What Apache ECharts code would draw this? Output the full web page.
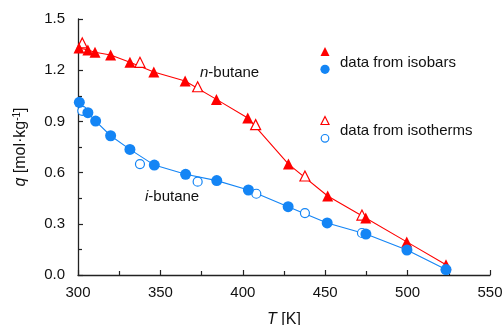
<!DOCTYPE html>
<html>
<head>
<meta charset="utf-8">
<script src="https://cdn.jsdelivr.net/npm/echarts@6/dist/echarts.min.js"></script>
<style>
  html, body {margin: 0; padding: 0; background: #fff;}
  #chart {width: 502px; height: 325px;}
</style>
</head>
<body>
<div id="chart"></div>
<script>
// n-butane, data from isobars (filled triangles)
const nIsobarT = [300.6, 306, 310.3, 319.8, 331.5, 346, 365, 384, 403, 427.7, 451.5, 474.6, 499.5, 523.3];
const nIsobarQ = [1.33, 1.318, 1.305, 1.289, 1.246, 1.19, 1.137, 1.029, 0.92, 0.65, 0.463, 0.334, 0.194, 0.06];
// n-butane, data from isotherms (open triangles)
const nIsothermT = [302.6, 337.6, 372.6, 407.8, 437.7, 472.3];
const nIsothermQ = [1.36, 1.246, 1.103, 0.881, 0.58, 0.351];
// i-butane, data from isobars (filled circles)
const iIsobarT = [300.8, 306, 310.7, 319.8, 331.5, 346.3, 365.3, 384.2, 403.4, 427.5, 451.2, 474.7, 499.6, 523.3];
const iIsobarQ = [1.012, 0.951, 0.902, 0.816, 0.736, 0.644, 0.59, 0.553, 0.498, 0.40, 0.305, 0.24, 0.146, 0.032];
// i-butane, data from isotherms (open circles)
const iIsothermT = [302.6, 337.6, 372.6, 408.2, 437.7, 472.3, 523.3];
const iIsothermQ = [0.962, 0.65, 0.547, 0.476, 0.363, 0.246, 0.03];

const RED = '#ff0000';
const BLUE = '#1485f5';
const FONT = 'Liberation Sans';
const INK = '#111';

const pairs = (xs, ys) => xs.map((x, i) => [x, ys[i]]);

const chart = echarts.init(document.getElementById('chart'));
chart.setOption({
  animation: false,
  textStyle: {fontFamily: FONT},
  grid: {left: 78, right: 12, top: 19, bottom: 50, containLabel: false, outerBoundsMode: 'none'},
  xAxis: {
    type: 'value',
    min: 300, max: 550, interval: 50,
    name: '{i|T} [K]',
    nameLocation: 'middle',
    nameGap: 37,
    nameTextStyle: {
      fontSize: 16, color: INK, fontFamily: FONT,
      rich: {i: {fontStyle: 'italic', fontSize: 16, fontFamily: FONT, color: INK}}
    },
    axisLine: {lineStyle: {color: '#222', width: 1.3}},
    axisTick: {inside: true, length: 5, lineStyle: {color: '#222', width: 1.2}},
    minorTick: {show: true, splitNumber: 2, length: 4, lineStyle: {color: '#222', width: 1.2}},
    axisLabel: {fontSize: 15, color: INK, margin: 10, fontFamily: FONT},
    splitLine: {show: false}
  },
  yAxis: {
    type: 'value',
    min: 0, max: 1.5, interval: 0.3,
    name: '{i|q} [mol·kg{s|-1}]',
    nameLocation: 'middle',
    nameGap: 48,
    nameRotate: 90,
    nameTextStyle: {
      fontSize: 16, color: INK, fontFamily: FONT,
      rich: {
        i: {fontStyle: 'italic', fontSize: 16, fontFamily: FONT, color: INK},
        s: {fontSize: 10, verticalAlign: 'top', padding: [0, 0, 8, 0], fontFamily: FONT, color: INK}
      }
    },
    axisLine: {show: true, lineStyle: {color: '#222', width: 1.3}},
    axisTick: {inside: true, length: 5, lineStyle: {color: '#222', width: 1.2}},
    minorTick: {show: true, splitNumber: 2, length: 4, lineStyle: {color: '#222', width: 1.2}},
    axisLabel: {fontSize: 15, color: INK, margin: 13, fontFamily: FONT,
      formatter: v => v.toFixed(1)},
    splitLine: {show: false}
  },
  series: [
    {type: 'line', data: pairs(nIsobarT, nIsobarQ), showSymbol: false,
      lineStyle: {color: RED, width: 1.1}, z: 1},
    {type: 'line', data: pairs(iIsobarT, iIsobarQ), showSymbol: false,
      lineStyle: {color: BLUE, width: 1.1}, z: 1},
    {type: 'scatter', data: pairs(nIsothermT, nIsothermQ), symbol: 'triangle', symbolSize: 10,
      itemStyle: {color: '#fff', borderColor: RED, borderWidth: 1.2, opacity: 1}, z: 2},
    {type: 'scatter', data: pairs(iIsothermT, iIsothermQ), symbol: 'circle', symbolSize: 9,
      itemStyle: {color: '#fff', borderColor: BLUE, borderWidth: 1.2, opacity: 1}, z: 2},
    {type: 'scatter', data: pairs(nIsobarT, nIsobarQ), symbol: 'triangle', symbolSize: 11,
      itemStyle: {color: RED, opacity: 1}, z: 3},
    {type: 'scatter', data: pairs(iIsobarT, iIsobarQ), symbol: 'circle', symbolSize: 11,
      itemStyle: {color: BLUE, opacity: 1}, z: 3}
  ],
  graphic: [
    // legend
    {type: 'polygon', shape: {points: [[325, 47], [320.5, 56], [329.5, 56]]}, style: {fill: RED}},
    {type: 'circle', shape: {cx: 325, cy: 69.3, r: 4.6}, style: {fill: BLUE}},
    {type: 'text', style: {x: 340, y: 62.5, text: 'data from isobars', font: '15px ' + FONT,
      fill: INK, verticalAlign: 'middle'}},
    {type: 'polygon', shape: {points: [[325, 116.5], [321, 124.5], [329, 124.5]]},
      style: {fill: '#fff', stroke: RED, lineWidth: 1.2}},
    {type: 'circle', shape: {cx: 325, cy: 138.3, r: 3.8}, style: {fill: '#fff', stroke: BLUE, lineWidth: 1.2}},
    {type: 'text', style: {x: 340, y: 130.5, text: 'data from isotherms', font: '15px ' + FONT,
      fill: INK, verticalAlign: 'middle'}},
    // series annotations
    {type: 'text', style: {x: 200, y: 72.5, verticalAlign: 'middle',
      text: '{i|n}-butane', font: '15px ' + FONT, fill: INK,
      rich: {i: {fontStyle: 'italic', fontSize: 15, fontFamily: FONT}}}},
    {type: 'text', style: {x: 145, y: 196.5, verticalAlign: 'middle',
      text: '{i|i}-butane', font: '15px ' + FONT, fill: INK,
      rich: {i: {fontStyle: 'italic', fontSize: 15, fontFamily: FONT}}}}
  ]
});
</script>
</body>
</html>
